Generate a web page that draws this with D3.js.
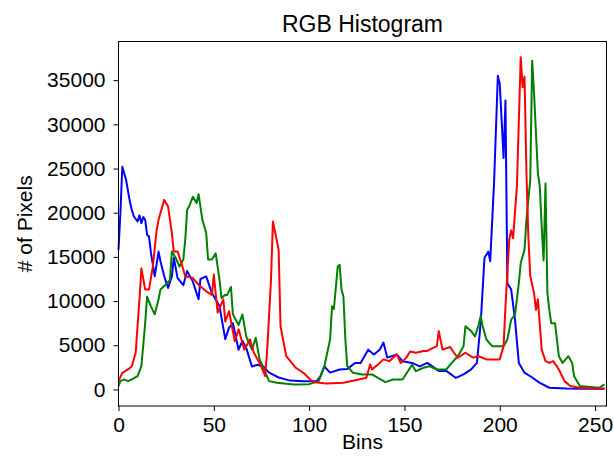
<!DOCTYPE html>
<html>
<head>
<meta charset="utf-8">
<script src="https://cdn.jsdelivr.net/npm/d3@7"></script>
<style>
  body { margin: 0; background: #fff; }
  text { font-family: "Liberation Sans", Arial, sans-serif; fill: #000; }
</style>
</head>
<body>
<div id="chart-area"></div>
<script>
// Values (bin, pixel count)
var blueBins = [0, 1, 2, 4, 6, 7, 8, 10, 11, 12, 13, 14, 15, 16, 17, 19, 21, 22, 24, 26, 28, 29, 31, 34, 36, 39, 42, 43, 46, 49, 53, 56, 58, 60, 63, 65, 67, 70, 73, 76, 79, 84, 90, 97, 104, 106, 108, 111, 116, 120, 124, 127, 131, 134, 137, 139, 141, 146, 149, 154, 158, 162, 168, 172, 177, 181, 185, 188, 190, 192, 194, 195, 197, 199, 200, 202, 203, 204, 206, 208, 210, 213, 217, 221, 226, 235, 245, 255];
var blueCounts = [15800, 20000, 25200, 23700, 21200, 20300, 19600, 19000, 19700, 18800, 19500, 19200, 17500, 17300, 15500, 12800, 15600, 14500, 12800, 11500, 12800, 14900, 12600, 11800, 13400, 12200, 10200, 12500, 12800, 10900, 9400, 5700, 7000, 7500, 4500, 5500, 4700, 2600, 2800, 2600, 1900, 1350, 1000, 940, 940, 1500, 2600, 1900, 2250, 2300, 3000, 3000, 4500, 3950, 4500, 5300, 3600, 3950, 3200, 3000, 2600, 3000, 2100, 2100, 1300, 1700, 2260, 3000, 7500, 14900, 15600, 14500, 23300, 35500, 34600, 26200, 32700, 12000, 11300, 7900, 3000, 1900, 1350, 750, 190, 100, 80, 80];

var greenBins = [0, 1, 3, 5, 7, 10, 12, 14, 15, 17, 19, 21, 22, 25, 27, 28, 30, 32, 34, 35, 36, 37, 39, 41, 42, 44, 46, 47, 49, 51, 53, 54, 56, 57, 59, 60, 63, 65, 67, 70, 72, 74, 76, 77, 79, 83, 92, 100, 105, 108, 111, 112, 113, 115, 116, 117, 118, 119, 120, 123, 128, 133, 137, 140, 144, 149, 154, 156, 160, 163, 167, 172, 174, 178, 181, 182, 185, 187, 189, 190, 191, 193, 196, 202, 204, 206, 208, 210, 211, 213, 214, 216, 217, 218, 220, 221, 222, 223, 224, 225, 226, 227, 229, 231, 233, 236, 238, 239, 242, 252, 255];
var greenCounts = [380, 940, 1130, 940, 1130, 1500, 2630, 7500, 10500, 9400, 8500, 10200, 11300, 11900, 12400, 15600, 14900, 13900, 14700, 16900, 20300, 20700, 21800, 21100, 22100, 19200, 17700, 14700, 14700, 15400, 12400, 10350, 10700, 10700, 11600, 8500, 7300, 8500, 6000, 4500, 5850, 3400, 2450, 1900, 940, 750, 560, 600, 940, 2630, 5650, 9400, 9100, 13900, 14100, 11300, 10500, 5650, 2630, 1880, 1700, 1700, 1200, 830, 1130, 1130, 2800, 2070, 2450, 2630, 2260, 2260, 2800, 3760, 4890, 7150, 6600, 6000, 7340, 8300, 7200, 5650, 4900, 4900, 5650, 7900, 8450, 12000, 14300, 15800, 19200, 23700, 37200, 33500, 24500, 23000, 18400, 14600, 23300, 10900, 9000, 7500, 7500, 3760, 3000, 3760, 3000, 1500, 380, 190, 560];

var redBins = [0, 2, 5, 7, 9, 11, 12, 14, 16, 18, 20, 21, 24, 26, 28, 29, 31, 33, 35, 39, 42, 46, 49, 50, 52, 55, 56, 58, 61, 63, 66, 69, 71, 74, 77, 78, 80, 81, 84, 85, 88, 93, 97, 102, 109, 118, 126, 130, 132, 133, 136, 139, 142, 146, 148, 151, 153, 156, 160, 162, 165, 167, 168, 170, 174, 176, 178, 182, 186, 189, 193, 200, 202, 203, 205, 206, 207, 209, 211, 212, 213, 214, 215, 216, 218, 219, 220, 222, 224, 226, 228, 230, 231, 234, 237, 242, 250, 255];
var redCounts = [940, 1880, 2260, 2630, 4140, 10200, 13700, 11300, 11300, 13900, 18000, 19200, 21450, 20700, 17700, 15600, 15600, 14300, 12800, 12600, 11850, 11100, 10700, 13000, 8700, 10200, 7700, 8850, 5450, 6800, 4500, 5650, 4150, 3000, 1500, 4500, 12400, 19000, 15800, 7150, 3760, 2450, 1880, 830, 680, 750, 1130, 1320, 2820, 2260, 2800, 3400, 3200, 3950, 3000, 3600, 4300, 4150, 4350, 4350, 4700, 4900, 6600, 4500, 4800, 4150, 3600, 4150, 3600, 3760, 3400, 3400, 4900, 9400, 17000, 18000, 17100, 23000, 37600, 34200, 35400, 24500, 17300, 12800, 10900, 9000, 10200, 4500, 3200, 3000, 3200, 2600, 2260, 940, 380, 190, 100, 100];

var xTicks = [0, 50, 100, 150, 200, 250];
var yTicks = [0, 5000, 10000, 15000, 20000, 25000, 30000, 35000];

var series = [
    { name: "b", bins: blueBins, counts: blueCounts, color: "#0000ff" },
    { name: "g", bins: greenBins, counts: greenCounts, color: "#008000" },
    { name: "r", bins: redBins, counts: redCounts, color: "#ff0000" }
];

var margin = { top: 41.5, right: 7.5, bottom: 50, left: 118.5 };
var width = 614 - margin.left - margin.right;
var height = 456 - margin.top - margin.bottom;

var svg = d3.select("#chart-area")
    .append("svg")
        .attr("width", 614)
        .attr("height", 456);

var group = svg.append("g")
    .attr("transform", "translate(" + margin.left + ", " + margin.top + ")");

// X Scale
var x = d3.scaleLinear()
    .domain([0, 256])
    .range([0, width]);

// Y Scale (matplotlib style 5% margins)
var y = d3.scaleLinear()
    .domain([-1875, 39375])
    .range([height, 0]);

// Lines
var line = d3.line()
    .x(d => x(d[0]))
    .y(d => y(d[1]));

series.forEach(s => {
    var pts = s.bins.map((b, i) => [b, s.counts[i]]);
    group.append("path")
        .datum(pts)
        .attr("fill", "none")
        .attr("stroke", s.color)
        .attr("stroke-width", 2)
        .attr("stroke-linejoin", "round")
        .attr("d", line);
});

// Axes
var xAxisCall = d3.axisBottom(x).tickValues(xTicks).tickSize(5).tickPadding(6);
var xAxisGroup = group.append("g")
    .attr("transform", "translate(0, " + height + ")")
    .call(xAxisCall);

var yAxisCall = d3.axisLeft(y).tickValues(yTicks).tickSize(5).tickPadding(8)
    .tickFormat(d => d);
var yAxisGroup = group.append("g")
    .call(yAxisCall);

[xAxisGroup, yAxisGroup].forEach(g => {
    g.select(".domain").remove();
    g.selectAll("line").attr("stroke", "#000").attr("stroke-width", 1);
    g.selectAll("text").attr("font-size", "21px").attr("fill", "#000")
        .style("font-family", "'Liberation Sans', Arial, sans-serif");
});

// Frame
group.append("rect")
    .attr("x", 0)
    .attr("y", 0)
    .attr("width", width)
    .attr("height", height)
    .attr("fill", "none")
    .attr("stroke", "#000")
    .attr("stroke-width", 1);

// Title
group.append("text")
    .attr("x", width / 2)
    .attr("y", -10)
    .attr("font-size", "23px")
    .attr("text-anchor", "middle")
    .text("RGB Histogram");

// X Label
group.append("text")
    .attr("x", width / 2)
    .attr("y", height + 43)
    .attr("font-size", "21px")
    .attr("text-anchor", "middle")
    .text("Bins");

// Y Label
group.append("text")
    .attr("x", -(height / 2))
    .attr("y", -87)
    .attr("font-size", "21px")
    .attr("text-anchor", "middle")
    .attr("transform", "rotate(-90)")
    .text("# of Pixels");
</script>
</body>
</html>
